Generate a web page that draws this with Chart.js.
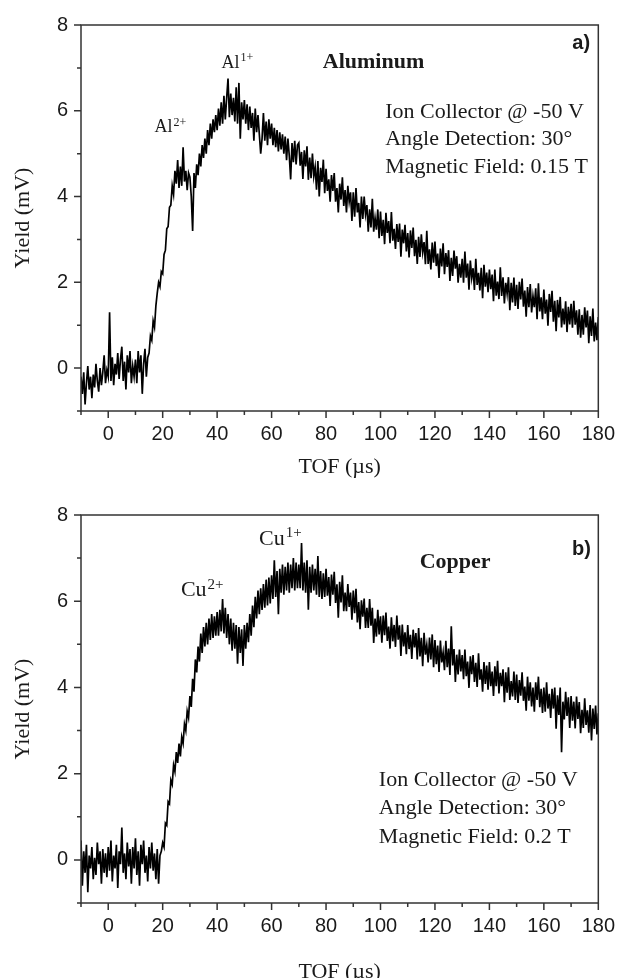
<!DOCTYPE html>
<html>
<head>
<meta charset="utf-8">
<title>TOF spectra</title>
<script src="https://cdn.jsdelivr.net/npm/chart.js@4.4.0/dist/chart.umd.min.js"></script>
<style>
  html, body { margin: 0; padding: 0; background: #fff; overflow: hidden; }
  .panel { position: absolute; left: 0; width: 626px; }
</style>
</head>
<body>
<div class="panel" style="top:0"><canvas id="chartAl" width="626" height="489"></canvas></div>
<div class="panel" style="top:489px"><canvas id="chartCu" width="626" height="510"></canvas></div>
<script>
// TOF sampling grid (µs)
const tofStart = -10;
const tofStep = 0.5;

// axis ticks
const xMajor = [0, 20, 40, 60, 80, 100, 120, 140, 160, 180];
const xMinor = [-10, 10, 30, 50, 70, 90, 110, 130, 150, 170];
const yMajor = [0, 2, 4, 6, 8];
const yMinor = [-1, 1, 3, 5, 7];

// Yield (mV), aluminum target, one row per 10 µs
const yieldAl = [
  -0.2, -0.6, -0.1, -0.85, -0.35, 0.05, -0.5, -0.2, -0.7, -0.15, -0.45, 0.1, -0.3, -0.55, 0.0, -0.4, -0.1, 0.3, -0.35, -0.05,
  -0.2, 1.3, -0.3, 0.25, -0.4, 0.1, -0.15, 0.35, -0.25, 0.2, 0.5, -0.3, 0.15, -0.5, 0.3, -0.1, 0.4, -0.35, 0.05, -0.2,
  0.2, -0.35, 0.4, -0.1, 0.3, -0.6, 0.1, 0.45, -0.2, 0.25, 0.35, 0.75, 0.65, 1.1, 0.95, 1.45, 1.75, 2.0, 1.9, 2.25,
  2.2, 2.65, 2.75, 3.25, 3.3, 3.75, 3.8, 4.25, 4.05, 4.6, 4.3, 4.85, 4.2, 4.7, 4.25, 5.15, 4.35, 4.6, 4.15, 4.55,
  4.45, 4.0, 3.2, 4.55, 4.2, 4.75, 4.5, 5.0, 4.7, 5.2, 4.9, 5.35, 5.0, 5.55, 5.2, 5.7, 5.35, 5.8, 5.5, 5.9,
  5.55, 6.05, 5.65, 6.2, 5.7, 6.35, 5.8, 6.3, 6.75, 5.85, 6.4, 5.9, 6.3, 5.75, 6.55, 5.7, 6.65, 5.35, 6.2, 5.8,
  6.25, 5.7, 6.15, 5.55, 6.1, 5.6, 5.95, 5.3, 6.05, 5.5, 5.9, 5.45, 5.0, 5.35, 5.95, 5.3, 5.75, 5.2, 5.8, 5.35,
  5.7, 5.2, 5.6, 5.15, 5.55, 5.05, 5.5, 5.1, 5.45, 5.0, 5.4, 4.85, 5.35, 4.95, 4.4, 5.25, 4.8, 5.3, 4.75, 5.2,
  5.25, 4.72, 5.04, 4.41, 5.08, 4.7, 5.17, 4.39, 4.91, 4.43, 5.0, 4.47, 4.69, 4.16, 4.83, 4.0, 4.67, 4.34, 4.86, 4.08,
  4.65, 4.13, 4.4, 3.88, 4.5, 4.13, 4.55, 3.88, 4.2, 3.63, 4.3, 3.93, 4.45, 3.78, 4.15, 3.63, 4.25, 3.88, 4.1, 3.43,
  4.1, 3.53, 4.2, 3.63, 3.85, 3.28, 4.0, 3.48, 4.0, 3.58, 3.8, 3.18, 3.7, 3.28, 3.95, 3.18, 3.5, 3.23, 3.7, 3.03,
  3.65, 3.08, 3.46, 2.89, 3.62, 3.15, 3.43, 2.91, 3.64, 2.97, 3.25, 2.78, 3.36, 2.94, 3.37, 2.6, 3.23, 2.91, 3.34, 2.72,
  3.15, 2.58, 3.21, 2.8, 3.28, 2.61, 2.99, 2.43, 3.06, 2.59, 3.12, 2.7, 2.94, 2.42, 3.2, 2.43, 2.77, 2.3, 2.93, 2.46,
  2.95, 2.38, 2.67, 2.1, 2.79, 2.37, 2.91, 2.19, 2.68, 2.36, 2.75, 2.03, 2.57, 2.15, 2.74, 2.32, 2.61, 1.99, 2.43, 2.11,
  2.55, 1.99, 2.72, 2.11, 2.44, 1.83, 2.51, 2.1, 2.33, 1.82, 2.55, 1.94, 2.22, 1.81, 2.34, 1.63, 2.41, 1.9, 2.23, 1.77,
  2.3, 1.84, 2.18, 1.56, 2.3, 1.69, 2.02, 1.61, 2.35, 1.68, 2.12, 1.51, 1.99, 1.73, 2.12, 1.35, 1.99, 1.53, 2.11, 1.45,
  1.94, 1.38, 2.01, 1.6, 2.09, 1.43, 1.81, 1.2, 1.89, 1.42, 1.96, 1.3, 1.68, 1.42, 1.86, 1.14, 1.98, 1.32, 1.65, 1.14,
  1.83, 1.27, 1.6, 0.99, 1.73, 1.31, 1.8, 1.08, 1.57, 0.86, 1.59, 1.18, 1.66, 0.95, 1.39, 1.02, 1.56, 0.84, 1.43, 1.02,
  1.5, 0.94, 1.57, 1.01, 1.35, 0.78, 1.37, 0.71, 1.24, 0.78, 1.42, 0.95, 1.34, 0.58, 1.21, 0.75, 1.39, 0.62, 1.06, 0.65, 1.19
];

// Yield (mV), copper target
const yieldCu = [
  0.45, -0.6, 0.2, -0.3, 0.35, -0.75, 0.1, -0.2, 0.3, -0.45, 0.05, -0.35, 0.4, -0.1, 0.2, -0.55, 0.25, -0.3, 0.15, -0.4,
  0.3, -0.25, 0.45, -0.5, 0.1, -0.2, 0.35, -0.65, 0.2, -0.1, 0.75, -0.3, 0.15, -0.45, 0.4, -0.15, 0.25, -0.55, 0.3, -0.2,
  0.5, -0.35, 0.2, -0.6, 0.35, -0.1, 0.45, -0.3, 0.1, -0.5, 0.3, -0.2, 0.4, -0.25, 0.15, -0.45, 0.25, -0.55, 0.1, 0.2,
  0.4, 0.3, 0.85, 0.8, 1.35, 1.3, 1.85, 1.75, 2.2, 2.05, 2.5, 2.25, 2.7, 2.4, 2.85, 2.7, 3.15, 3.0, 3.45, 3.3,
  3.8, 3.55, 4.2, 3.9, 4.65, 4.35, 4.95, 4.6, 5.25, 4.8, 5.4, 4.95, 5.5, 5.0, 5.6, 5.1, 5.7, 5.15, 5.65, 5.2,
  5.75, 5.2, 5.8, 5.3, 6.05, 5.25, 5.85, 5.15, 5.7, 5.0, 5.6, 4.85, 5.5, 4.9, 5.45, 4.55, 5.4, 4.8, 5.35, 4.5,
  5.45, 4.9, 5.5, 5.05, 5.7, 5.2, 5.9, 5.4, 6.1, 5.6, 6.25, 5.7, 6.3, 5.8, 6.4, 5.85, 6.5, 5.9, 6.55, 5.95,
  6.6, 6.05, 6.95, 6.1, 6.7, 5.7, 6.75, 6.2, 6.85, 6.15, 6.8, 6.25, 6.9, 6.2, 6.85, 6.3, 7.0, 6.25, 6.9, 6.3,
  6.85, 6.3, 7.35, 6.25, 6.9, 6.2, 6.95, 5.8, 6.8, 6.2, 6.85, 6.25, 6.75, 6.15, 7.05, 6.1, 6.7, 6.05, 6.65, 6.1,
  6.75, 6.13, 6.56, 5.89, 6.62, 6.15, 6.68, 5.96, 6.39, 5.62, 6.45, 5.97, 6.6, 5.77, 6.2, 5.77, 6.4, 5.87, 6.2, 5.57,
  6.25, 5.72, 6.29, 5.51, 5.98, 5.35, 6.02, 5.64, 6.06, 5.38, 5.85, 5.38, 6.05, 5.43, 5.85, 5.03, 5.6, 5.18, 5.8, 5.23,
  5.65, 5.04, 5.67, 5.21, 5.74, 5.08, 5.41, 4.9, 5.63, 5.07, 5.45, 4.94, 5.67, 5.11, 5.44, 4.73, 5.46, 4.95, 5.28, 4.77,
  5.45, 4.89, 5.22, 4.66, 5.34, 4.93, 5.26, 4.65, 5.38, 4.72, 5.15, 4.49, 5.27, 4.76, 4.99, 4.58, 5.16, 4.65, 5.23, 4.47,
  5.1, 4.54, 4.97, 4.36, 5.09, 4.58, 4.81, 4.4, 5.08, 4.47, 4.9, 4.29, 5.42, 4.51, 4.89, 4.13, 4.76, 4.3, 4.88, 4.37,
  4.75, 4.19, 4.88, 4.26, 4.6, 3.99, 4.72, 4.31, 4.75, 4.13, 4.57, 4.01, 4.79, 4.18, 4.42, 3.9, 4.59, 4.08, 4.51, 3.95,
  4.59, 4.03, 4.37, 3.8, 4.49, 4.03, 4.62, 3.86, 4.34, 4.03, 4.42, 3.66, 4.35, 3.88, 4.47, 3.71, 4.15, 3.79, 4.37, 3.71,
  4.3, 3.64, 4.17, 3.81, 4.35, 3.69, 4.02, 3.46, 4.25, 3.69, 4.12, 3.56, 4.0, 3.44, 4.12, 3.71, 4.25, 3.54, 3.97, 3.41,
  4.0, 3.44, 4.12, 3.51, 3.85, 3.29, 3.97, 3.51, 4.0, 3.04, 3.82, 3.36, 4.0, 2.5, 3.67, 3.26, 3.9, 3.34, 3.77, 3.06,
  3.8, 3.23, 3.67, 3.05, 3.79, 3.27, 3.66, 2.94, 3.48, 3.06, 3.75, 3.13, 3.47, 2.95, 3.59, 2.77, 3.51, 3.04, 3.58, 2.91, 3.4
];

const serif = '"Liberation Serif", "Times New Roman", serif';
const sans = '"Liberation Sans", Arial, sans-serif';
const ink = '#1a1a1a';
const axisColor = '#333';

function toPoints(values) {
  return values.map((v, i) => ({ x: tofStart + i * tofStep, y: v }));
}

// frame around the plot area plus major/minor tick marks pointing outward
const frameTicks = {
  id: 'frameTicks',
  afterDraw(chart) {
    const { ctx, chartArea: a, scales } = chart;
    ctx.save();
    ctx.strokeStyle = axisColor;
    ctx.lineWidth = 1.5;
    ctx.strokeRect(a.left, a.top, a.right - a.left, a.bottom - a.top);
    ctx.beginPath();
    xMajor.forEach(v => { const px = scales.x.getPixelForValue(v); ctx.moveTo(px, a.bottom); ctx.lineTo(px, a.bottom + 7); });
    xMinor.forEach(v => { const px = scales.x.getPixelForValue(v); ctx.moveTo(px, a.bottom); ctx.lineTo(px, a.bottom + 4); });
    yMajor.forEach(v => { const py = scales.y.getPixelForValue(v); ctx.moveTo(a.left, py); ctx.lineTo(a.left - 7, py); });
    yMinor.forEach(v => { const py = scales.y.getPixelForValue(v); ctx.moveTo(a.left, py); ctx.lineTo(a.left - 4, py); });
    ctx.stroke();
    ctx.restore();
  }
};

// in-plot text: ion labels with charge superscripts, material, panel letter, run settings
const panelText = {
  id: 'panelText',
  afterDraw(chart, args, opts) {
    const { ctx, scales } = chart;
    const X = v => scales.x.getPixelForValue(v);
    const Y = v => scales.y.getPixelForValue(v);
    ctx.save();
    ctx.fillStyle = ink;
    ctx.textBaseline = 'alphabetic';
    opts.ions.forEach(ion => {
      ctx.textAlign = 'left';
      ctx.font = ion.size + 'px ' + serif;
      const x = X(ion.t), y = Y(ion.v);
      ctx.fillText(ion.base, x, y);
      const w = ctx.measureText(ion.base).width;
      ctx.font = Math.round(ion.size * 0.68) + 'px ' + serif;
      ctx.fillText(ion.charge, x + w + 1, y - ion.size * 0.36);
    });
    ctx.font = 'bold 22px ' + serif;
    ctx.textAlign = 'left';
    ctx.fillText(opts.material.text, X(opts.material.t), Y(opts.material.v));
    ctx.font = 'bold 20px ' + sans;
    ctx.textAlign = 'right';
    ctx.fillText(opts.letter.text, X(opts.letter.t), Y(opts.letter.v));
    ctx.font = '22px ' + serif;
    ctx.textAlign = 'left';
    opts.info.lines.forEach((line, i) => {
      ctx.fillText(line, X(opts.info.t), Y(opts.info.v[i]));
    });
    ctx.restore();
  }
};

function makePanel(id, values, text, box) {
  const ctx = document.getElementById(id).getContext('2d');
  return new Chart(ctx, {
    type: 'line',
    data: {
      datasets: [{
        data: toPoints(values),
        borderColor: '#000',
        borderWidth: 1.7,
        borderJoinStyle: 'miter',
        pointRadius: 0,
        tension: 0
      }]
    },
    options: {
      responsive: false,
      animation: false,
      events: [],
      layout: { padding: { left: 0, right: 23, top: box.top, bottom: 0 } },
      plugins: { legend: { display: false }, tooltip: { enabled: false }, panelText: text },
      scales: {
        x: {
          type: 'linear',
          min: -10,
          max: 180,
          grid: { display: false, drawTicks: false },
          border: { display: false },
          ticks: {
            stepSize: 10,
            padding: 11,
            color: ink,
            font: { family: sans, size: 20 },
            maxRotation: 0,
            autoSkip: false,
            callback: v => xMajor.includes(v) ? String(v) : ''
          },
          title: {
            display: true,
            text: 'TOF (\u00b5s)',
            color: ink,
            font: { family: serif, size: 22 },
            padding: { top: 0, bottom: box.titlePad }
          },
          afterFit: s => { s.height = box.xHeight; }
        },
        y: {
          min: -1,
          max: 8,
          grid: { display: false, drawTicks: false },
          border: { display: false },
          ticks: {
            stepSize: 1,
            padding: 13,
            color: ink,
            font: { family: sans, size: 20 },
            callback: v => yMajor.includes(v) ? String(v) : ''
          },
          title: {
            display: true,
            text: 'Yield (mV)',
            color: ink,
            font: { family: serif, size: 22 },
            padding: { top: 10, bottom: 0 }
          },
          afterFit: s => { s.width = 81; }
        }
      }
    },
    plugins: [frameTicks, panelText]
  });
}

window.onload = function () {
  makePanel('chartAl', yieldAl, {
    ions: [
      { base: 'Al', charge: '2+', t: 17.0, v: 5.5, size: 18 },
      { base: 'Al', charge: '1+', t: 41.6, v: 7.0, size: 18 }
    ],
    material: { text: 'Aluminum', t: 78.8, v: 7.0 },
    letter: { text: 'a)', t: 177, v: 7.43 },
    info: {
      lines: ['Ion Collector @ -50 V', 'Angle Detection: 30\u00b0', 'Magnetic Field: 0.15 T'],
      t: 101.7,
      v: [5.84, 5.2, 4.56]
    }
  }, { top: 24, xHeight: 78, titlePad: 9 });

  makePanel('chartCu', yieldCu, {
    ions: [
      { base: 'Cu', charge: '2+', t: 26.7, v: 6.11, size: 22 },
      { base: 'Cu', charge: '1+', t: 55.4, v: 7.31, size: 22 }
    ],
    material: { text: 'Copper', t: 114.4, v: 6.77 },
    letter: { text: 'b)', t: 177.3, v: 7.08 },
    info: {
      lines: ['Ion Collector @ -50 V', 'Angle Detection: 30\u00b0', 'Magnetic Field: 0.2 T'],
      t: 99.4,
      v: [1.72, 1.06, 0.40]
    }
  }, { top: 26, xHeight: 96, titlePad: 14 });
};
</script>
</body>
</html>
